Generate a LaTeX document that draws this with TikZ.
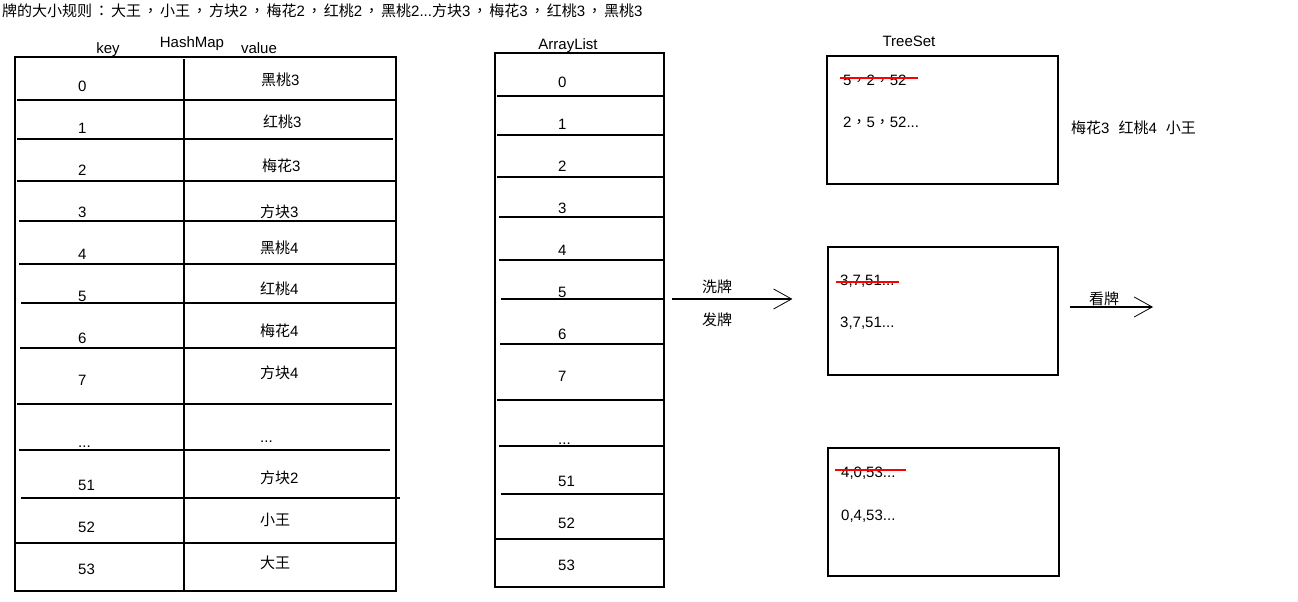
\documentclass[tikz,border=0pt]{standalone}
\usepackage{fontspec}
\setmainfont{Liberation Sans}
\newfontfamily\cjk{Noto Sans CJK SC}
\newfontfamily\cjkpunct{Noto Sans CJK TC}
\usetikzlibrary{arrows.meta}
\newcommand{\zh}[1]{{\cjk #1}}
\newcommand{\dou}{{\cjkpunct\kern2pt，\kern2pt}}

\begin{document}
\begin{tikzpicture}[
  x=1pt, y=-1pt,
  font=\fontsize{15}{18}\selectfont,
  tbl/.style   ={draw, line width=1.2pt, inner sep=0pt},
  box/.style   ={draw, line width=1.2pt, inner sep=0pt, minimum height=128pt},
  grid/.style  ={line width=1.2pt},
  lbl/.style   ={inner sep=0pt, anchor=base west},
  hdr/.style   ={inner sep=0pt, anchor=base},
  arr/.style   ={-{Straight Barb[length=18pt, width=20pt, line width=0.8pt]}, line width=1.2pt},
  strike/.style={draw=red, line width=1.4pt},
]
\useasboundingbox (0,0) rectangle (1298,602);

% ==================== title ====================
\node[lbl] (title) at (2,17) {\zh{牌的大小规则}{\cjkpunct\kern2pt：\kern2pt}\zh{大王}\dou\zh{小王}\dou\zh{方块}2\dou\zh{梅花}2\dou\zh{红桃}2\dou\zh{黑桃}2...\zh{方块}3\dou\zh{梅花}3\dou\zh{红桃}3\dou\zh{黑桃}3};

% ==================== HashMap ====================
\node[hdr] (hkey)  at (108,53) {key};
\node[hdr] (hname) at (192,48) {HashMap};
\node[hdr] (hval)  at (259,53) {value};
\node[tbl, minimum width=381pt, minimum height=534pt] (hm) at (205.5,324) {};

\draw[grid] (184,59) -- (184,591);
\draw[grid] (17,100) -- (395,100);
\draw[grid] (17,139) -- (393,139);
\draw[grid] (17,181) -- (395,181);
\draw[grid] (19,221) -- (395,221);
\draw[grid] (19,264) -- (396,264);
\draw[grid] (21,303) -- (395,303);
\draw[grid] (20,348) -- (396,348);
\draw[grid] (17,404) -- (392,404);
\draw[grid] (19,450) -- (390,450);
\draw[grid] (21,498) -- (400,498);
\draw[grid] (15,543) -- (396,543);

% keys
\node[lbl] (k0)  at (78,91)  {0};
\node[lbl] (k1)  at (78,133) {1};
\node[lbl] (k2)  at (78,175) {2};
\node[lbl] (k3)  at (78,217) {3};
\node[lbl] (k4)  at (78,259) {4};
\node[lbl] (k5)  at (78,301) {5};
\node[lbl] (k6)  at (78,343) {6};
\node[lbl] (k7)  at (78,385) {7};
\node[lbl] (kx)  at (78,447) {...};
\node[lbl] (k51) at (78,490) {51};
\node[lbl] (k52) at (78,532) {52};
\node[lbl] (k53) at (78,574) {53};

% values
\node[lbl] (v0)  at (261,85)  {\zh{黑桃}3};
\node[lbl] (v1)  at (263,127) {\zh{红桃}3};
\node[lbl] (v2)  at (262,171) {\zh{梅花}3};
\node[lbl] (v3)  at (260,217) {\zh{方块}3};
\node[lbl] (v4)  at (260,253) {\zh{黑桃}4};
\node[lbl] (v5)  at (260,294) {\zh{红桃}4};
\node[lbl] (v6)  at (260,336) {\zh{梅花}4};
\node[lbl] (v7)  at (260,378) {\zh{方块}4};
\node[lbl] (vx)  at (260,442) {...};
\node[lbl] (v51) at (260,483) {\zh{方块}2};
\node[lbl] (v52) at (260,525) {\zh{小王}};
\node[lbl] (v53) at (260,568) {\zh{大王}};

% ==================== ArrayList ====================
\node[hdr] (aname) at (568,49) {ArrayList};
\node[tbl, minimum width=169pt, minimum height=534pt] (al) at (579.5,320) {};

\draw[grid] (497,96)  -- (664,96);
\draw[grid] (497,135) -- (664,135);
\draw[grid] (497,177) -- (664,177);
\draw[grid] (499,217) -- (664,217);
\draw[grid] (499,260) -- (664,260);
\draw[grid] (501,299) -- (664,299);
\draw[grid] (500,344) -- (664,344);
\draw[grid] (497,400) -- (664,400);
\draw[grid] (499,446) -- (664,446);
\draw[grid] (501,494) -- (664,494);
\draw[grid] (495,539) -- (664,539);

\node[lbl] (a0)  at (558,87)  {0};
\node[lbl] (a1)  at (558,129) {1};
\node[lbl] (a2)  at (558,171) {2};
\node[lbl] (a3)  at (558,213) {3};
\node[lbl] (a4)  at (558,255) {4};
\node[lbl] (a5)  at (558,297) {5};
\node[lbl] (a6)  at (558,339) {6};
\node[lbl] (a7)  at (558,381) {7};
\node[lbl] (ax)  at (558,444) {...};
\node[lbl] (a51) at (558,486) {51};
\node[lbl] (a52) at (558,528) {52};
\node[lbl] (a53) at (558,570) {53};

% ==================== TreeSet ====================
\node[hdr] (tname) at (909,47) {TreeSet};
\node[box, minimum width=231pt] (t1) at (942.5,120) {};
\node[box, minimum width=230pt] (t2) at (943,311)   {};
\node[box, minimum width=231pt] (t3) at (943.5,512) {};

\node[lbl] (s1old) at (843,85)  {5{\cjkpunct ，}2{\cjkpunct ，}52};
\node[lbl] (s1new) at (843,127) {2{\cjkpunct ，}5{\cjkpunct ，}52...};
\node[lbl] (s1see) at (1071,133) {\zh{梅花}3\hspace{9pt}\zh{红桃}4\hspace{9pt}\zh{小王}};
\node[lbl] (s2old) at (840,285) {3,7,51...};
\node[lbl] (s2new) at (840,327) {3,7,51...};
\node[lbl] (s3old) at (841,477) {4,0,53...};
\node[lbl] (s3new) at (841,520) {0,4,53...};

% struck out
\draw[strike] (840,78)  -- (918,78);
\draw[strike] (836,282) -- (899,282);
\draw[strike] (835,470) -- (906,470);

% ==================== arrows ====================
\draw[arr, shorten <=7pt, shorten >=35pt] (al.east |- 0,299) -- (t2.west |- 0,299);
\node[hdr] (shuffle) at (717,292) {\zh{洗牌}};
\node[hdr] (deal)    at (717,325) {\zh{发牌}};

\coordinate (look) at (1153,307);
\draw[arr, shorten <=11pt] (t2.east |- look) -- (look);
\node[hdr] (see) at (1104,304) {\zh{看牌}};

\end{tikzpicture}
\end{document}
